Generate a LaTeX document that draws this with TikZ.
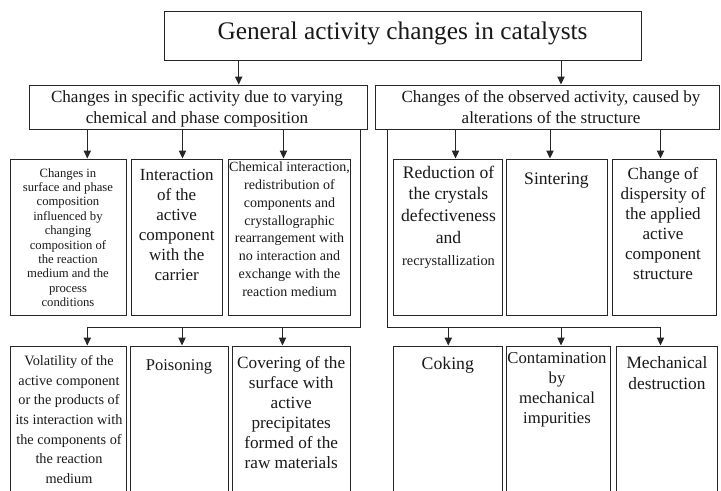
\documentclass[tikz,border=0pt]{standalone}
\usepackage{fontspec}
\setmainfont{Liberation Serif}
\usetikzlibrary{arrows.meta,fit}
\tikzset{
  box/.style={draw=black!85, line width=0.75pt, inner sep=0pt},
  txt/.style={align=center, inner sep=0pt, anchor=north, text=black!90},
  conn/.style={draw=black!85, line width=0.75pt},
  arr/.style={conn, -{Triangle[length=6pt,width=5.5pt]}},
}
\newcommand\fs[2]{\fontsize{#1}{#2}\selectfont}
\begin{document}
\begin{tikzpicture}[x=0.75pt,y=-0.75pt]
\clip (0,0) rectangle (721,490);
\fill[white] (0,0) rectangle (721,490);
% boxes
\node[box, fit={(164,11) (641,60.5)}] (top) {};
\node[box, fit={(29,85) (367.5,129.5)}] (L2) {};
\node[box, fit={(375.5,85) (719.5,129.5)}] (R2) {};
\node[box, fit={(10,159) (126,315)}] (L3a) {};
\node[box, fit={(131,159) (222.5,315)}] (L3b) {};
\node[box, fit={(228,159) (350.5,315)}] (L3c) {};
\node[box, fit={(393.3,159) (502.7,315)}] (R3a) {};
\node[box, fit={(506,159) (607.7,315)}] (R3b) {};
\node[box, fit={(612.3,159) (716.7,315)}] (R3c) {};
\node[box, fit={(10,346) (126,500)}] (L4a) {};
\node[box, fit={(130.7,346) (228,500)}] (L4b) {};
\node[box, fit={(232,346) (350.5,500)}] (L4c) {};
\node[box, fit={(393.3,346) (502.7,500)}] (R4a) {};
\node[box, fit={(506,346) (610,500)}] (R4b) {};
\node[box, fit={(616.7,346) (717.5,500)}] (R4c) {};
% texts
\node[inner sep=0pt, anchor=base, text=black!90, font=\fs{19}{23}] (ttop) at (402.5,39.3) {General activity changes in catalysts};
\node[txt, font=\fs{12.8}{15.5}] (tL2) at (197,90.5) {Changes in specific activity due to varying\\chemical and phase composition};
\node[txt, font=\fs{12.8}{15.5}] (tR2) at (551,90.5) {Changes of the observed activity, caused by\\alterations of the structure};
\node[txt, font=\fs{9.5}{10.8}] (tL3a) at (68,168) {Changes in\\surface and phase\\composition\\influenced by\\changing\\composition of\\the reaction\\medium and the\\process\\conditions};
\node[txt, font=\fs{12.75}{15}] (tL3b) at (176.7,168.5) {Interaction\\of the\\active\\component\\with the\\carrier};
\node[txt, font=\fs{10.5}{13.3}] (tL3c) at (289.5,162) {Chemical interaction,\\redistribution of\\components and\\crystallographic\\rearrangement with\\no interaction and\\exchange with the\\reaction medium};
\node[txt, font=\fs{13.2}{16.3}] (tR3a) at (448.5,165.5) {Reduction of\\the crystals\\defectiveness\\and\\{\fs{10.8}{16.3}recrystallization}};
\node[txt, font=\fs{13.2}{16.3}] (tR3b) at (556.5,172.3) {Sintering};
\node[txt, font=\fs{12.8}{15}] (tR3c) at (663,167.5) {Change of\\dispersity of\\the applied\\active\\component\\structure};
\node[txt, font=\fs{10.7}{14.8}] (tL4a) at (69,355) {Volatility of the\\active component\\or the products of\\its interaction with\\the components of\\the reaction\\medium};
\node[txt, font=\fs{12.4}{15}] (tL4b) at (179,359.4) {Poisoning};
\node[txt, font=\fs{12.9}{15}] (tL4c) at (291.2,355.9) {Covering of the\\surface with\\active\\precipitates\\formed of the\\raw materials};
\node[txt, font=\fs{13.3}{15}] (tR4a) at (447.8,357.2) {Coking};
\node[txt, font=\fs{12.5}{14.8}] (tR4b) at (557,352.6) {Contamination\\by\\mechanical\\impurities};
\node[txt, font=\fs{13}{15.75}] (tR4c) at (667,355.8) {Mechanical\\destruction};
% connector x positions
\coordinate (a1) at (238.7,0);
\coordinate (a2) at (561,0);
\coordinate (b1) at (87.3,0);
\coordinate (b2) at (182.5,0);
\coordinate (b3) at (283.5,0);
\coordinate (c1) at (455.5,0);
\coordinate (c2) at (550,0);
\coordinate (c3) at (660.5,0);
\coordinate (vL) at (360,0);
\coordinate (vR) at (387.7,0);
\coordinate (jL1) at (87.3,327.7);
\coordinate (jL2) at (182,327.7);
\coordinate (jL3) at (282.5,327.7);
\coordinate (jR1) at (448.3,327.7);
\coordinate (jR2) at (561,327.7);
\coordinate (jR3) at (660.5,327.7);
% connectors
\draw[arr] (top.south -| a1) -- (L2.north -| a1);
\draw[arr] (top.south -| a2) -- (R2.north -| a2);
\draw[arr] (L2.south -| b1) -- (L3a.north -| b1);
\draw[arr] (L2.south -| b2) -- (L3b.north -| b2);
\draw[arr] (L2.south -| b3) -- (L3c.north -| b3);
\draw[arr] (R2.south -| c1) -- (R3a.north -| c1);
\draw[arr] (R2.south -| c2) -- (R3b.north -| c2);
\draw[arr] (R2.south -| c3) -- (R3c.north -| c3);
\draw[conn] (L2.south -| vL) |- (jL1);
\draw[arr] (jL1) -- (L4a.north -| jL1);
\draw[arr] (jL2) -- (L4b.north -| jL2);
\draw[arr] (jL3) -- (L4c.north -| jL3);
\draw[conn] (R2.south -| vR) |- (jR3);
\draw[arr] (jR1) -- (R4a.north -| jR1);
\draw[arr] (jR2) -- (R4b.north -| jR2);
\draw[arr] (jR3) -- (R4c.north -| jR3);
\end{tikzpicture}
\end{document}
